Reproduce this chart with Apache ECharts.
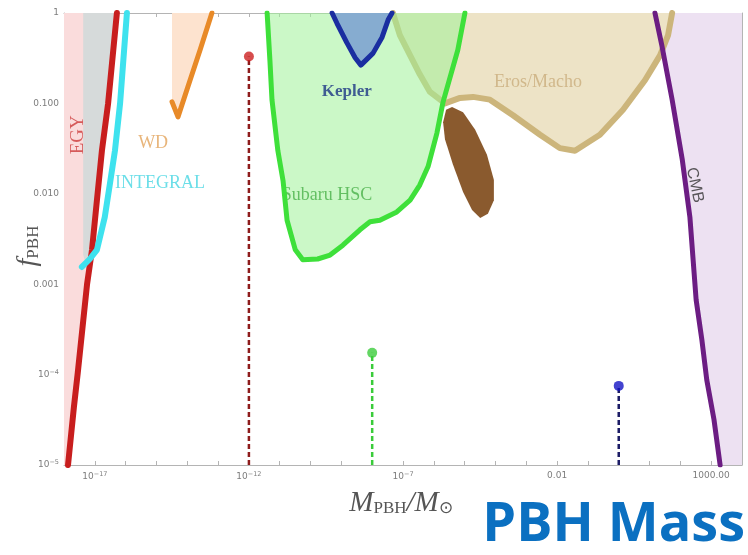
<!DOCTYPE html>
<html>
<head>
<meta charset="utf-8">
<script src="https://cdn.jsdelivr.net/npm/echarts@6/dist/echarts.min.js"></script>
<style>html,body{margin:0;padding:0;background:#fff}#c{width:748px;height:555px}</style>
</head>
<body>
<div id="c"></div>
<script>
// ---- data (M_PBH / M_sun, f_PBH) ----
const egyLine = [[5.2e-17,1],[2.7e-17,0.1],[1.7e-17,0.03],[1.17e-17,0.0085],[8.1e-18,0.0024],[5.6e-18,0.001],[2.8e-18,1.05e-4],[2.1e-18,4.4e-5],[1.35e-18,1e-5]];
const greyBand = [[4.2e-18,1],[5.2e-17,1],[2.7e-17,0.1],[1.7e-17,0.03],[1.17e-17,0.0085],[8.1e-18,0.0024],[7.6e-18,0.00185],[4.8e-18,0.0018],[4.2e-18,0.0021]];
const integralLine = [[1.1e-16,1],[6.6e-17,0.1],[4.5e-17,0.03],[3.1e-17,0.013],[2.1e-17,0.0055],[1.17e-17,0.0024],[6.9e-18,0.0019],[3.8e-18,0.00155]];
const wdLine = [[6.3e-14,1],[2.6e-14,0.39],[1.23e-14,0.18],[5.0e-15,0.071],[3.2e-15,0.104]];
const subaruHSC = [[3.9e-12,1],[4.8e-12,0.30],[5.6e-12,0.11],[8.7e-12,0.03],[1.28e-11,0.014],[1.73e-11,0.0051],[3.2e-11,0.0024],[5.6e-11,0.00186],[1.7e-10,0.0019],[4.3e-10,0.0021],[1.12e-9,0.0027],[4.0e-9,0.004],[8.5e-9,0.0049],[1.78e-8,0.0051],[6.3e-8,0.0063],[1.7e-7,0.0085],[3.5e-7,0.0125],[6.5e-7,0.02],[1.26e-6,0.047],[2.0e-6,0.104],[6.0e-6,0.39],[1.02e-5,1]];
const kepler = [[5.0e-10,1],[7.2e-10,0.77],[1.5e-9,0.47],[2.8e-9,0.32],[4.3e-9,0.265],[1.07e-8,0.36],[2.1e-8,0.54],[3.3e-8,0.84],[4.4e-8,1]];
const erosMacho = [[4.7e-8,1],[7.9e-8,0.57],[1.7e-7,0.34],[3.5e-7,0.21],[7.5e-7,0.134],[2.3e-6,0.1],[7.1e-6,0.115],[1.87e-5,0.118],[6.6e-5,0.11],[3.7e-4,0.074],[2.8e-3,0.045],[0.0123,0.032],[0.038,0.030],[0.245,0.045],[1.38,0.085],[7.1,0.18],[21.9,0.34],[40,0.57],[54,1]];
const brownBlob = [[3.9e-6,0.091],[8.9e-6,0.080],[2.2e-5,0.051],[5.3e-5,0.027],[8.9e-5,0.0142],[8.9e-5,0.0085],[5.7e-5,0.006],[3.2e-5,0.0054],[1.74e-5,0.0066],[8.9e-6,0.0105],[4.2e-6,0.021],[2.3e-6,0.040],[2.0e-6,0.062],[2.5e-6,0.085]];
const cmbLine = [[15,1],[25,0.44],[54,0.11],[115,0.024],[204,0.0055],[325,6.7e-4],[500,2.4e-4],[720,8.7e-5],[1230,3.2e-5],[1950,1e-5]];
const candidateMass = [1e-12, 1e-8, 1];
const candidateF = [0.33, 1.74e-4, 7.5e-5];
const xRange = [1e-18, 1e4];
const yRange = [1e-5, 1];
const xTickLabels = {'-17':'{b|10}{s|−17}','-12':'{b|10}{s|−12}','-7':'{b|10}{s|−7}','-2':'{b|0.01}','3':'{b|1000.00}'};
const yTickLabels = {'0':'{b|1}','-1':'{b|0.100}','-2':'{b|0.010}','-3':'{b|0.001}','-4':'{b|10}{s|−4}','-5':'{b|10}{s|−5}'};
const annotations = [
  {text:'EGY', x:2.8e-18, y:0.045, rotate:90, color:'#cc3a3a', size:19, font:'Liberation Serif'},
  {text:'WD', x:7.8e-16, y:0.036, rotate:0, color:'#e2a25a', size:18, font:'Liberation Serif'},
  {text:'INTEGRAL', x:1.3e-15, y:0.013, rotate:0, color:'#46d6e2', size:18, font:'Liberation Serif'},
  {text:'Kepler', x:1.5e-9, y:0.134, rotate:0, color:'#1c3484', size:17, font:'Liberation Serif', weight:'bold'},
  {text:'Subaru HSC', x:3.4e-10, y:0.0097, rotate:0, color:'#48b048', size:18, font:'Liberation Serif'},
  {text:'Eros/Macho', x:2.4e-3, y:0.17, rotate:0, color:'#c9ad7c', size:18, font:'Liberation Serif'},
  {text:'CMB', x:295, y:0.0125, rotate:-78, color:'#333333', size:16, font:'Liberation Sans'}
];

// ---- helpers ----
function fillSeries(points, color, z, opacity) {
  return {
    type:'custom', coordinateSystem:'cartesian2d', z:z, silent:true, clip:true,
    data:[points[0]], encode:{x:0,y:1},
    renderItem:function(params, api){
      return {type:'polygon', shape:{points:points.map(function(p){return api.coord(p);})},
        style:{fill:color, opacity:opacity == null ? 1 : opacity}};
    }
  };
}
function lineSeries(points, color, width, z, dash) {
  return {type:'line', data:points, symbol:'none', z:z, silent:true, clip:true,
    lineStyle:{color:color, width:width, cap: dash ? 'butt' : 'round', join:'round', type: dash || 'solid'}};
}
const lg = function(v){ return String(Math.round(Math.log10(v))); };
const tickRich = {b:{fontSize:9, color:'#7d7d7d', fontFamily:'DejaVu Sans'}, s:{fontSize:6.5, color:'#7d7d7d', verticalAlign:'top', padding:[0,0,5,0], fontFamily:'DejaVu Sans'}};

const egyFill = [[xRange[0], yRange[1]]].concat(egyLine, [[xRange[0], yRange[0]]]);
const wdFill = [[wdLine[wdLine.length-1][0], yRange[1]]].concat(wdLine);
const cmbFill = cmbLine.concat([[xRange[1], yRange[0]],[xRange[1], yRange[1]]]);
const stemColors = ['#8e1c1c','#3acc3a','#1c1c66'];
const dotColors = ['#cc2020','#3ccc3c','#1414c4'];

const series = [
  fillSeries(egyFill, '#fadcdc', 1),
  fillSeries(greyBand, '#d6dada', 2),
  fillSeries(wdFill, '#fde3cf', 1),
  fillSeries(cmbFill, '#ede1f2', 1),
  fillSeries(erosMacho, '#ede3c6', 2),
  lineSeries(erosMacho, '#ccb57b', 6, 3),
  fillSeries(subaruHSC, '#a0f299', 4, 0.55),
  fillSeries(kepler, '#86acd0', 5),
  fillSeries(brownBlob, '#8a5a2e', 6),
  {type:'scatter', symbolSize:0, z:7, silent:true,
    data:annotations.map(function(a){return {value:[a.x,a.y], label:{show:true, position:'inside', formatter:a.text, rotate:a.rotate,
      color:a.color, fontSize:a.size, fontFamily:a.font, fontWeight:a.weight||'normal', textBorderWidth:0}};})},
  lineSeries(subaruHSC, '#3ee03a', 5, 8),
  lineSeries(kepler, '#1a2ea0', 5, 8),
  lineSeries(egyLine, '#c81e1e', 6, 9),
  lineSeries(integralLine, '#3ee2ee', 6, 9),
  lineSeries(wdLine, '#e88a28', 5, 9),
  lineSeries(cmbLine, '#6c1d83', 5, 9)
];
candidateMass.forEach(function(m, i){
  series.push(lineSeries([[m, yRange[0]],[m, candidateF[i]]], stemColors[i], 2.5, 10, [5,3]));
  series.push({type:'scatter', data:[[m, candidateF[i]]], symbol:'circle', symbolSize:10, z:11, silent:true,
    itemStyle:{color:dotColors[i]}});
});

const axisBase = {type:'log', logBase:10, interval:1, splitLine:{show:false},
  axisLine:{show:true, lineStyle:{color:'#b4b4b4', width:1}},
  axisTick:{show:true, inside:true, length:4, lineStyle:{color:'#b4b4b4'}}};

const option = {
  animation:false,
  backgroundColor:'#ffffff',
  grid:{left:64, right:6, top:13, bottom:90, containLabel:false, outerBoundsMode:'none'},
  xAxis:[
    Object.assign({}, axisBase, {min:xRange[0], max:xRange[1], position:'bottom',
      axisLabel:{show:true, margin:6, formatter:function(v){return xTickLabels[lg(v)] || '';}, rich:tickRich}}),
    Object.assign({}, axisBase, {min:xRange[0], max:xRange[1], position:'top', axisLabel:{show:false}})
  ],
  yAxis:[
    Object.assign({}, axisBase, {min:yRange[0], max:yRange[1], position:'left',
      axisLabel:{show:true, margin:5, formatter:function(v){return yTickLabels[lg(v)] || '';}, rich:tickRich}}),
    Object.assign({}, axisBase, {min:yRange[0], max:yRange[1], position:'right', axisLabel:{show:false}})
  ],
  series:series,
  graphic:[
    {type:'text', x:28, y:246, rotation:Math.PI/2, silent:true,
      style:{text:'{f|f}{s|PBH}', align:'center', verticalAlign:'middle',
        rich:{f:{fontSize:28, fontStyle:'italic', fontFamily:'Liberation Serif', fill:'#555'},
              s:{fontSize:17, fontFamily:'Liberation Serif', fill:'#555', verticalAlign:'bottom', padding:[8,0,0,0]}}}},
    {type:'text', x:401, y:503, silent:true,
      style:{text:'{m|M}{s|PBH}{m|/M}{s|⊙}', align:'center', verticalAlign:'middle',
        rich:{m:{fontSize:29, fontStyle:'italic', fontFamily:'Liberation Serif', fill:'#555'},
              s:{fontSize:17, fontFamily:'Liberation Serif', fill:'#555', verticalAlign:'bottom', padding:[10,0,0,0]}}}},
    {type:'text', x:745, y:526, silent:true,
      style:{text:'PBH Mass', align:'right', verticalAlign:'middle', fontSize:54, fontWeight:'bold',
        fontFamily:'Open Sans', fill:'#0b70c1'}}
  ]
};
const chart = echarts.init(document.getElementById('c'), null, {renderer:'canvas'});
chart.setOption(option);
</script>
</body>
</html>
